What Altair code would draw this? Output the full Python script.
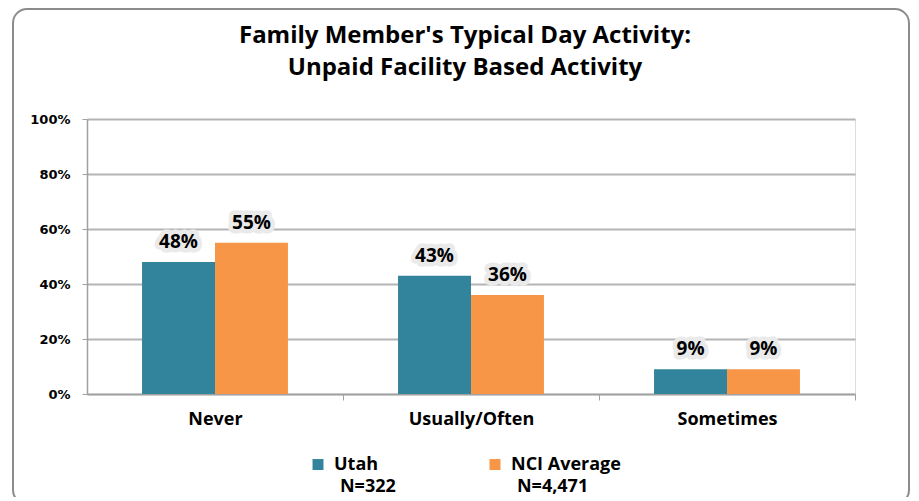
import altair as alt
import pandas as pd

categories = ["Never", "Usually/Often", "Sometimes"]
series = ["Utah", "NCI Average"]
utah_values = [48, 43, 9]
nci_values = [55, 36, 9]
legend_n = ["N=322", "N=4,471"]
colors = ["#31849B", "#F79646"]
y_ticks = [0, 20, 40, 60, 80, 100]

rows = []
for c, u, n in zip(categories, utah_values, nci_values):
    rows.append({"category": c, "series": "Utah", "value": u, "label": f"{u}%"})
    rows.append({"category": c, "series": "NCI Average", "value": n, "label": f"{n}%"})
df = pd.DataFrame(rows)

BG = "#EAEAEA"
FONT = "Open Sans"

x_enc = alt.X("category:N", sort=categories,
              scale=alt.Scale(paddingInner=0.43, paddingOuter=0.215),
              axis=alt.Axis(title=None, labelAngle=0, labelFont=FONT,
                            labelFontWeight="bold", labelFontSize=18, labelColor="#000000",
                            labelPadding=10, tickOffset=128, labelOffset=-128,
                            ticks=True, tickSize=6,
                            tickColor="#A0A0A0", domainColor="#A0A0A0", domainWidth=1.5,
                            grid=False))
xo_enc = alt.XOffset("series:N", sort=series,
                     scale=alt.Scale(paddingInner=0, paddingOuter=0))
y_enc = alt.Y("value:Q", scale=alt.Scale(domain=[0, 100], nice=False),
              axis=alt.Axis(title=None, values=y_ticks, labelExpr="datum.value + '%'",
                            labelFont="DejaVu Sans", labelFontWeight="bold",
                            labelFontSize=13, labelColor="#000000", labelPadding=12,
                            tickSize=5, tickColor="#A0A0A0", domainColor="#A0A0A0",
                            domainWidth=1.5, grid=True, gridColor="#B4B4B4",
                            gridWidth=2))

label_expr = ("datum.label == '" + series[0] + "' ? ['" + series[0] + "', '\u200b\u2009\u2009"
              + legend_n[0] + "'] : ['" + series[1] + "', '\u200b\u2009\u2009" + legend_n[1] + "']")

bars = alt.Chart(df).mark_bar().encode(
    x=x_enc, xOffset=xo_enc, y=y_enc,
    color=alt.Color("series:N", sort=series,
                    scale=alt.Scale(domain=series, range=colors),
                    legend=alt.Legend(title=None, orient="none", legendX=222, legendY=342,
                                      direction="horizontal", columns=2,
                                      symbolType="M-1,-2H1V0H-1Z", symbolSize=120,
                                      symbolStrokeWidth=0, labelExpr=label_expr,
                                      labelFont=FONT, labelFontWeight="bold",
                                      labelFontSize=18, labelColor="#000000",
                                      labelOffset=7, columnPadding=90,
                                      labelBaseline="alphabetic", labelLimit=300)),
)

frame = alt.Chart(pd.DataFrame({"k": [0]})).mark_rect(
    fill=None, stroke="#8C8C8C", strokeWidth=2, cornerRadius=14
).encode(x=alt.value(-74), x2=alt.value(822), y=alt.value(-110), y2=alt.value(385))

halo = alt.Chart(df).mark_text(
    font=FONT, fontWeight="bold", fontSize=19, baseline="bottom", dy=-10,
    stroke=BG, strokeWidth=9, strokeJoin="round", fill=BG
).encode(x=alt.X("category:N", sort=categories), xOffset=alt.XOffset("series:N", sort=series),
         y="value:Q", text="label:N")

labels = alt.Chart(df).mark_text(
    font=FONT, fontWeight="bold", fontSize=19, baseline="bottom", dy=-10, color="#000000"
).encode(x=alt.X("category:N", sort=categories), xOffset=alt.XOffset("series:N", sort=series),
         y="value:Q", text="label:N")

chart = alt.layer(bars, halo, labels, frame).properties(
    width=768, height=275,
    autosize=alt.AutoSizeParams(type="none"),
    padding={"left": 79, "top": 111, "right": 56, "bottom": 103},
    background="#FFFFFF",
    title=alt.TitleParams(
        text=["Family Member's Typical Day Activity:", "Unpaid Facility Based Activity"],
        font=FONT, fontSize=24, fontWeight="bold", color="#000000",
        anchor="middle", frame="group", offset=-72, lineHeight=32, dx=-6),
).configure_view(fill=BG, stroke=None).configure(
    style={"guide-label": {"lineHeight": 22}}
)

chart.save("out.html", embed_options={"renderer": "svg", "actions": False})
